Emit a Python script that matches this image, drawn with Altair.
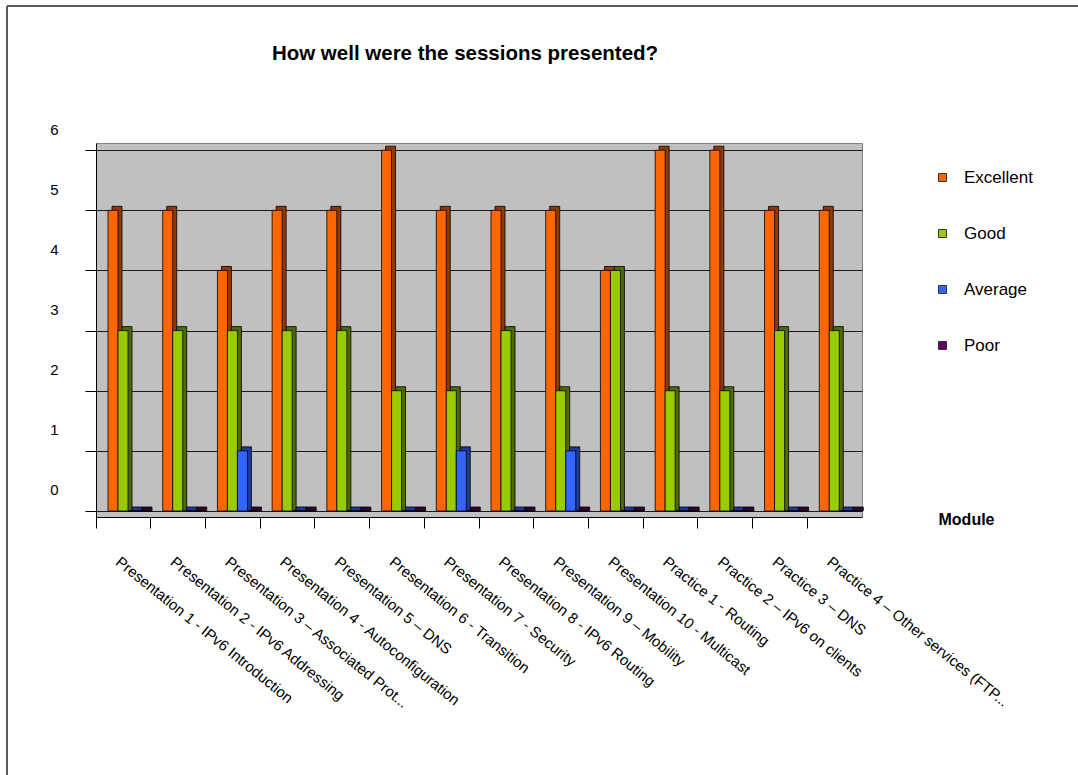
import altair as alt
import pandas as pd

# Survey answers per module
modules = [
    "Presentation 1 - IPv6 Introduction",
    "Presentation 2 - IPv6 Addressing",
    "Presentation 3 \u2013 Associated Prot...",
    "Presentation 4 - Autoconfiguration",
    "Presentation 5 \u2013 DNS",
    "Presentation 6 - Transition",
    "Presentation 7 - Security",
    "Presentation 8 - IPv6 Routing",
    "Presentation 9 \u2013 Mobility",
    "Presentation 10 - Multicast",
    "Practice 1 - Routing",
    "Practice 2 \u2013 IPv6 on clients",
    "Practice 3 \u2013 DNS",
    "Practice 4 \u2013 Other services (FTP...",
]
ratings = ["Excellent", "Good", "Average", "Poor"]
excellent = [5, 5, 4, 5, 5, 6, 5, 5, 5, 4, 6, 6, 5, 5]
good = [3, 3, 3, 3, 3, 2, 2, 3, 2, 4, 2, 2, 3, 3]
average = [0, 0, 1, 0, 0, 0, 1, 0, 1, 0, 0, 0, 0, 0]
poor = [0, 0, 0, 0, 0, 0, 0, 0, 0, 0, 0, 0, 0, 0]

chart_title = "How well were the sessions presented?"

face_colors = ["#FF6600", "#99CC00", "#3366FF", "#660066"]
side_colors = ["#8F3A00", "#4F6A00", "#1C3A99", "#330033"]

rows = []
for rating, counts in zip(ratings, [excellent, good, average, poor]):
    for module, count in zip(modules, counts):
        rows.append({"Module": module, "Rating": rating, "Count": count})
df = pd.DataFrame(rows)

FONT = "Liberation Sans"

x_enc = alt.X(
    "Module:N",
    sort=modules,
    scale=alt.Scale(paddingInner=0, paddingOuter=0),
    axis=alt.Axis(
        title="Module",
        titleX=870,
        titleY=2,
        titleAlign="center",
        titleBaseline="middle",
        titleAngle=0,
        titleFont=FONT,
        titleFontSize=16,
        titleFontWeight="bold",
        titleColor="black",
        labelAngle=39,
        labelAlign="left",
        labelBaseline="top",
        labelPadding=26,
        labelOffset=-1,
        labelFont=FONT,
        labelFontSize=15,
        labelColor="black",
        labelLimit=0,
        labelOverlap=False,
        bandPosition=0,
        tickSize=11,
        tickColor="black",
        domainColor="black",
        grid=False,
    ),
)

y_enc = alt.Y(
    "Count:Q",
    stack=None,
    scale=alt.Scale(domain=[-0.1, 6.12], nice=False, zero=False),
    axis=alt.Axis(
        values=[0, 1, 2, 3, 4, 5, 6],
        title=None,
        tickSize=11,
        tickColor="black",
        domainColor="black",
        labelPadding=27,
        labelOffset=-21,
        labelFont=FONT,
        labelFontSize=15,
        labelColor="black",
        grid=True,
        gridColor="#1a1a1a",
        gridWidth=1,
        gridOpacity=1,
    ),
)

# Receding side of each column, drawn behind and slightly up-right
depth = (
    alt.Chart(df)
    .mark_bar(yOffset=-4, stroke="black", strokeWidth=0.8)
    .encode(
        x=x_enc,
        xOffset=alt.XOffset(
            "Rating:N",
            sort=ratings,
            scale=alt.Scale(range=[16, 56], paddingInner=0, paddingOuter=0),
        ),
        y=y_enc,
        y2=alt.datum(0),
        color=alt.Color(
            "Rating:N",
            sort=ratings,
            scale=alt.Scale(domain=ratings, range=side_colors),
            legend=None,
        ),
    )
)

# Front faces of the columns
front = (
    alt.Chart(df)
    .mark_bar(stroke="black", strokeWidth=0.8)
    .encode(
        x=x_enc,
        xOffset=alt.XOffset(
            "Rating:N",
            sort=ratings,
            scale=alt.Scale(range=[12, 52], paddingInner=0, paddingOuter=0),
        ),
        y=y_enc,
        y2=alt.datum(0),
        color=alt.Color(
            "Rating:N",
            sort=ratings,
            scale=alt.Scale(domain=ratings, range=face_colors),
            legend=alt.Legend(
                title=None,
                orient="none",
                legendX=838,
                legendY=26,
                symbolType="square",
                symbolSize=64,
                symbolStrokeColor="#333333",
                symbolStrokeWidth=1,
                labelFont=FONT,
                labelFontSize=17,
                labelColor="black",
                labelOffset=13,
                rowPadding=38,
                padding=0,
            ),
        ),
    )
)

one_row = pd.DataFrame({"label": [chart_title]})

# Chart heading
heading = alt.Chart(one_row).mark_text(
    font=FONT, fontSize=20.5, fontWeight="bold", color="black",
    align="center", baseline="alphabetic",
).encode(text="label:N", x=alt.value(369), y=alt.value(-83))

# Outer frame of the chart object
frame_left = alt.Chart(one_row).mark_rule(color="#5a5a5a", strokeWidth=2).encode(
    x=alt.value(-89), y=alt.value(-137), y2=alt.value(660)
)
frame_top = alt.Chart(one_row).mark_rule(color="#5a5a5a", strokeWidth=2).encode(
    x=alt.value(-89), x2=alt.value(1000), y=alt.value(-137)
)

chart = (
    alt.layer(depth, front, heading, frame_left, frame_top)
    .resolve_scale(color="independent", xOffset="independent")
    .properties(
        width=766,
        height=374,
        padding={"left": 96, "top": 143, "right": 216, "bottom": 258},
        autosize=alt.AutoSizeParams(type="none"),
        background="white",
    )
    .configure_view(fill="#C0C0C0", stroke="#808080", strokeWidth=1)
)

chart.save("out.html", embed_options={"renderer": "svg", "actions": False})
